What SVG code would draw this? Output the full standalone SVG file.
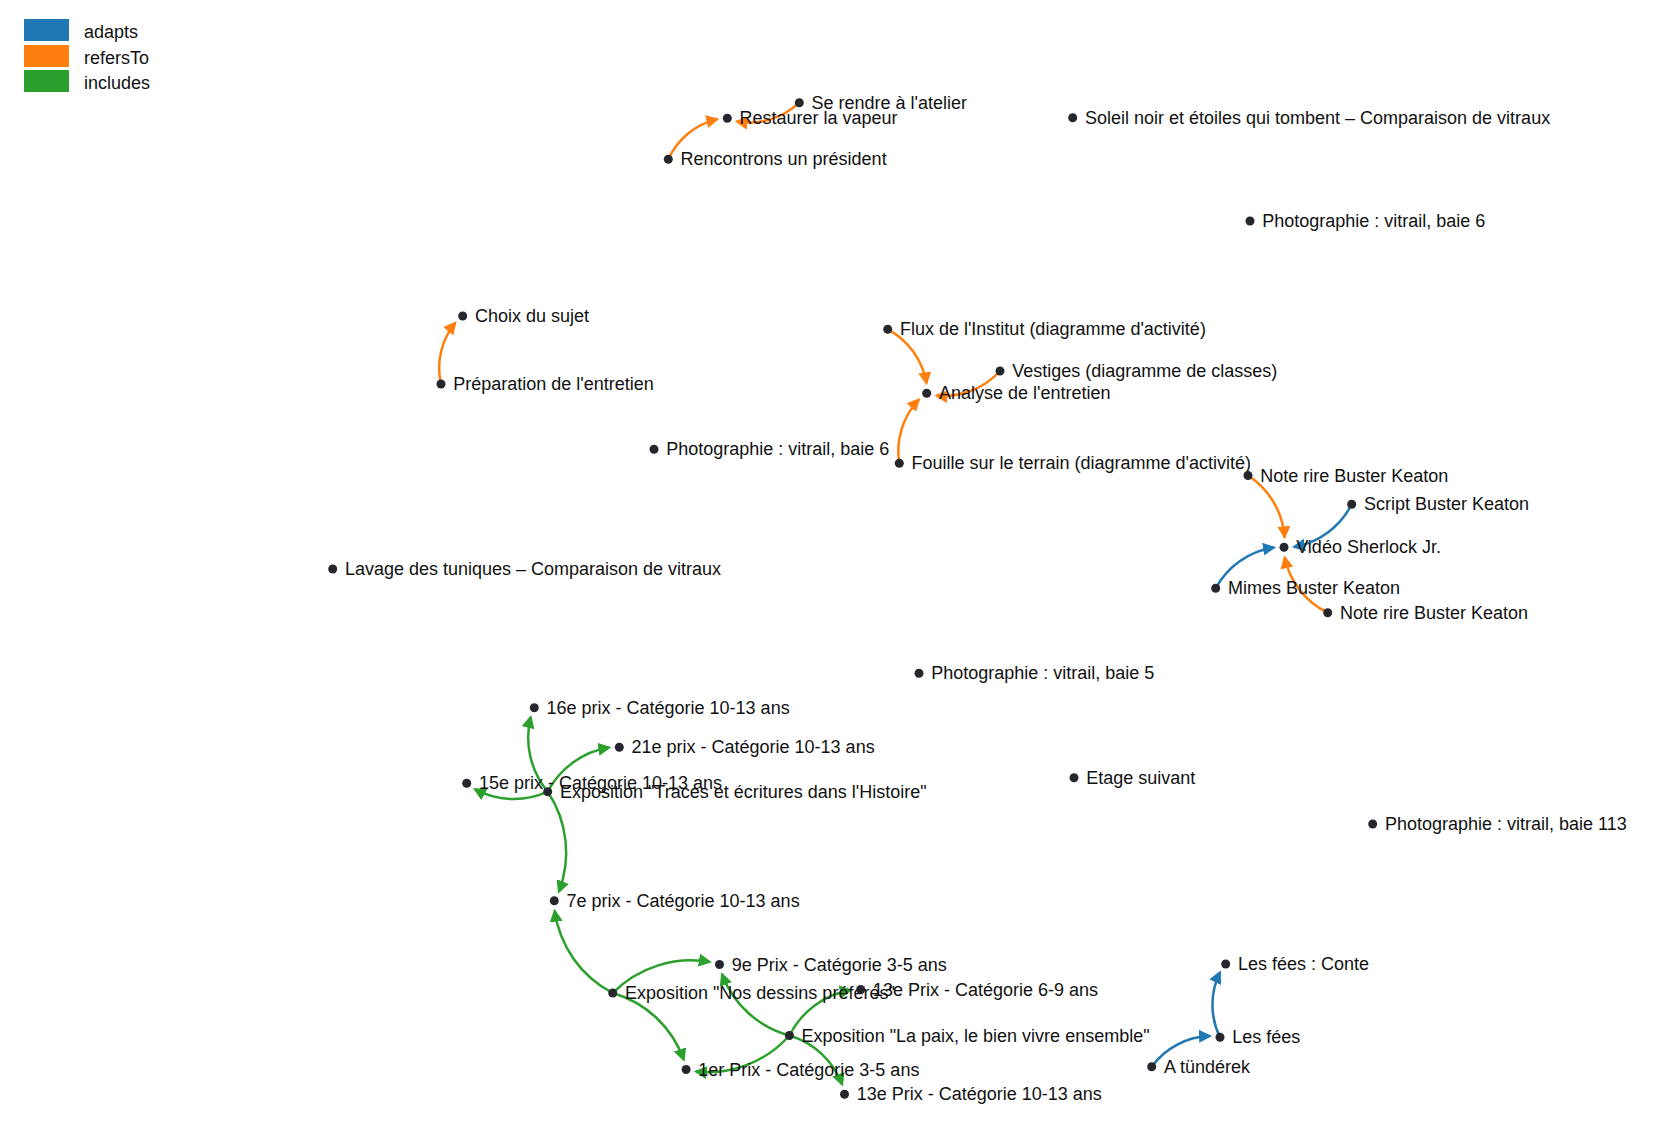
<svg xmlns="http://www.w3.org/2000/svg" width="1662" height="1131" viewBox="0 0 1662 1131">
<style>
text{font-family:"Liberation Sans",Arial,sans-serif;font-size:18px;fill:#111}
.lbl{dominant-baseline:central}
.dot{fill:#25272c}
.lk{fill:none;stroke-width:2.5}
.adapts{stroke:#1f77b4}
.refersTo{stroke:#ff7f0e}
.includes{stroke:#2ca02c}
</style>
<defs>
<marker id="m-adapts" viewBox="0 -6.5 13 13" refX="11" refY="0" markerWidth="13" markerHeight="13" markerUnits="userSpaceOnUse" orient="auto"><path d="M0,-6.5L13,0L0,6.5Z" fill="#1f77b4"/></marker>
<marker id="m-refersTo" viewBox="0 -6.5 13 13" refX="11" refY="0" markerWidth="13" markerHeight="13" markerUnits="userSpaceOnUse" orient="auto"><path d="M0,-6.5L13,0L0,6.5Z" fill="#ff7f0e"/></marker>
<marker id="m-includes" viewBox="0 -6.5 13 13" refX="11" refY="0" markerWidth="13" markerHeight="13" markerUnits="userSpaceOnUse" orient="auto"><path d="M0,-6.5L13,0L0,6.5Z" fill="#2ca02c"/></marker>
</defs>
<rect width="1662" height="1131" fill="#fff"/>
<g id="legend">
<rect x="24" y="19" width="45" height="22" fill="#1f77b4"/>
<rect x="24" y="45" width="45" height="22" fill="#ff7f0e"/>
<rect x="24" y="70" width="45" height="22" fill="#2ca02c"/>
<text class="lbl" x="84" y="32">adapts</text>
<text class="lbl" x="84" y="57.5">refersTo</text>
<text class="lbl" x="84" y="83">includes</text>
</g>
<g id="links">
<path class="lk refersTo" marker-end="url(#m-refersTo)" d="M668.3,159.3A71.85,71.85 0 0,1 717.3,119.1"/>
<path class="lk refersTo" marker-end="url(#m-refersTo)" d="M799.3,102.7A73.67,73.67 0 0,1 736.8,121.4"/>
<path class="lk refersTo" marker-end="url(#m-refersTo)" d="M887.7,329.3A74.95,74.95 0 0,1 926.5,383.3"/>
<path class="lk refersTo" marker-end="url(#m-refersTo)" d="M1000,371A76.62,76.62 0 0,1 936.5,395.6"/>
<path class="lk refersTo" marker-end="url(#m-refersTo)" d="M899.3,463.3A75.17,75.17 0 0,1 918.9,399.5"/>
<path class="lk refersTo" marker-end="url(#m-refersTo)" d="M441,384A71.38,71.38 0 0,1 455.3,322.7"/>
<path class="lk refersTo" marker-end="url(#m-refersTo)" d="M1248,475.5A80.32,80.32 0 0,1 1284.6,537.3"/>
<path class="lk refersTo" marker-end="url(#m-refersTo)" d="M1327.7,612.7A78.66,78.66 0 0,1 1284.7,557.3"/>
<path class="lk adapts" marker-end="url(#m-adapts)" d="M1351.7,504.3A80.2,80.2 0 0,1 1294,546.9"/>
<path class="lk adapts" marker-end="url(#m-adapts)" d="M1215.7,588.3A79.66,79.66 0 0,1 1274,547.5"/>
<path class="lk adapts" marker-end="url(#m-adapts)" d="M1151.7,1066.7A74.36,74.36 0 0,1 1210.1,1036.1"/>
<path class="lk adapts" marker-end="url(#m-adapts)" d="M1220,1037.3A73.52,73.52 0 0,1 1220,972.3"/>
<path class="lk includes" marker-end="url(#m-includes)" d="M547.7,791.7A85.06,85.06 0 0,1 530.7,717"/>
<path class="lk includes" marker-end="url(#m-includes)" d="M547.7,791.7A84.25,84.25 0 0,1 609.3,747.6"/>
<path class="lk includes" marker-end="url(#m-includes)" d="M547.7,791.7A81.43,81.43 0 0,1 474.8,789.2"/>
<path class="lk includes" marker-end="url(#m-includes)" d="M547.7,791.7A109.2,109.2 0 0,1 558.8,891.8"/>
<path class="lk includes" marker-end="url(#m-includes)" d="M612.7,993A109.22,109.22 0 0,1 554.7,910.7"/>
<path class="lk includes" marker-end="url(#m-includes)" d="M612.7,993A110.54,110.54 0 0,1 709.8,961.9"/>
<path class="lk includes" marker-end="url(#m-includes)" d="M612.7,993A106.02,106.02 0 0,1 683.7,1059.8"/>
<path class="lk includes" marker-end="url(#m-includes)" d="M789.4,1035.5A99.63,99.63 0 0,1 722,974.2"/>
<path class="lk includes" marker-end="url(#m-includes)" d="M789.4,1035.5A84.85,84.85 0 0,1 850.7,990"/>
<path class="lk includes" marker-end="url(#m-includes)" d="M789.4,1035.5A108.75,108.75 0 0,1 695.9,1071.5"/>
<path class="lk includes" marker-end="url(#m-includes)" d="M789.4,1035.5A80.58,80.58 0 0,1 842.2,1084.6"/>
</g>
<g id="nodes">
<g id="n1"><circle class="dot" cx="799.3" cy="102.7" r="4.5"/><text class="lbl" x="811.5" y="102.7">Se rendre à l'atelier</text></g>
<g id="n2"><circle class="dot" cx="727.3" cy="118.3" r="4.5"/><text class="lbl" x="739.5" y="118.3">Restaurer la vapeur</text></g>
<g id="n3"><circle class="dot" cx="668.3" cy="159.3" r="4.5"/><text class="lbl" x="680.5" y="159.3">Rencontrons un président</text></g>
<g id="n4"><circle class="dot" cx="1072.7" cy="117.7" r="4.5"/><text class="lbl" x="1084.9" y="117.7">Soleil noir et étoiles qui tombent – Comparaison de vitraux</text></g>
<g id="n5"><circle class="dot" cx="1250" cy="221" r="4.5"/><text class="lbl" x="1262.2" y="221">Photographie : vitrail, baie 6</text></g>
<g id="n6"><circle class="dot" cx="462.7" cy="316" r="4.5"/><text class="lbl" x="474.9" y="316">Choix du sujet</text></g>
<g id="n7"><circle class="dot" cx="441" cy="384" r="4.5"/><text class="lbl" x="453.2" y="384">Préparation de l'entretien</text></g>
<g id="n8"><circle class="dot" cx="887.7" cy="329.3" r="4.5"/><text class="lbl" x="899.9" y="329.3">Flux de l'Institut (diagramme d'activité)</text></g>
<g id="n9"><circle class="dot" cx="1000" cy="371" r="4.5"/><text class="lbl" x="1012.2" y="371">Vestiges (diagramme de classes)</text></g>
<g id="n10"><circle class="dot" cx="926.7" cy="393.3" r="4.5"/><text class="lbl" x="938.9" y="393.3">Analyse de l'entretien</text></g>
<g id="n11"><circle class="dot" cx="654" cy="449.3" r="4.5"/><text class="lbl" x="666.2" y="449.3">Photographie : vitrail, baie 6</text></g>
<g id="n12"><circle class="dot" cx="899.3" cy="463.3" r="4.5"/><text class="lbl" x="911.5" y="463.3">Fouille sur le terrain (diagramme d'activité)</text></g>
<g id="n13"><circle class="dot" cx="1248" cy="475.5" r="4.5"/><text class="lbl" x="1260.2" y="475.5">Note rire Buster Keaton</text></g>
<g id="n14"><circle class="dot" cx="1351.7" cy="504.3" r="4.5"/><text class="lbl" x="1363.9" y="504.3">Script Buster Keaton</text></g>
<g id="n15"><circle class="dot" cx="1284" cy="547.3" r="4.5"/><text class="lbl" x="1296.2" y="547.3">Vidéo Sherlock Jr.</text></g>
<g id="n16"><circle class="dot" cx="1215.7" cy="588.3" r="4.5"/><text class="lbl" x="1227.9" y="588.3">Mimes Buster Keaton</text></g>
<g id="n17"><circle class="dot" cx="1327.7" cy="612.7" r="4.5"/><text class="lbl" x="1339.9" y="612.7">Note rire Buster Keaton</text></g>
<g id="n18"><circle class="dot" cx="332.7" cy="569" r="4.5"/><text class="lbl" x="344.9" y="569">Lavage des tuniques – Comparaison de vitraux</text></g>
<g id="n19"><circle class="dot" cx="919" cy="673.3" r="4.5"/><text class="lbl" x="931.2" y="673.3">Photographie : vitrail, baie 5</text></g>
<g id="n20"><circle class="dot" cx="534.3" cy="707.7" r="4.5"/><text class="lbl" x="546.5" y="707.7">16e prix - Catégorie 10-13 ans</text></g>
<g id="n21"><circle class="dot" cx="619.3" cy="747.3" r="4.5"/><text class="lbl" x="631.5" y="747.3">21e prix - Catégorie 10-13 ans</text></g>
<g id="n22"><circle class="dot" cx="466.7" cy="783.3" r="4.5"/><text class="lbl" x="478.9" y="783.3">15e prix - Catégorie 10-13 ans</text></g>
<g id="n23"><circle class="dot" cx="547.7" cy="791.7" r="4.5"/><text class="lbl" x="559.9" y="791.7">Exposition "Traces et écritures dans l'Histoire"</text></g>
<g id="n24"><circle class="dot" cx="1074" cy="777.7" r="4.5"/><text class="lbl" x="1086.2" y="777.7">Etage suivant</text></g>
<g id="n25"><circle class="dot" cx="1372.7" cy="824" r="4.5"/><text class="lbl" x="1384.9" y="824">Photographie : vitrail, baie 113</text></g>
<g id="n26"><circle class="dot" cx="554.3" cy="900.7" r="4.5"/><text class="lbl" x="566.5" y="900.7">7e prix - Catégorie 10-13 ans</text></g>
<g id="n27"><circle class="dot" cx="719.5" cy="964.5" r="4.5"/><text class="lbl" x="731.7" y="964.5">9e Prix - Catégorie 3-5 ans</text></g>
<g id="n28"><circle class="dot" cx="612.7" cy="993" r="4.5"/><text class="lbl" x="624.9" y="993">Exposition "Nos dessins préférés"</text></g>
<g id="n29"><circle class="dot" cx="860.7" cy="989.5" r="4.5"/><text class="lbl" x="872.9" y="989.5">13e Prix - Catégorie 6-9 ans</text></g>
<g id="n30"><circle class="dot" cx="789.4" cy="1035.5" r="4.5"/><text class="lbl" x="801.6" y="1035.5">Exposition "La paix, le bien vivre ensemble"</text></g>
<g id="n31"><circle class="dot" cx="686.1" cy="1069.5" r="4.5"/><text class="lbl" x="698.3" y="1069.5">1er Prix - Catégorie 3-5 ans</text></g>
<g id="n32"><circle class="dot" cx="844.5" cy="1094.3" r="4.5"/><text class="lbl" x="856.7" y="1094.3">13e Prix - Catégorie 10-13 ans</text></g>
<g id="n33"><circle class="dot" cx="1225.7" cy="964" r="4.5"/><text class="lbl" x="1237.9" y="964">Les fées : Conte</text></g>
<g id="n34"><circle class="dot" cx="1220" cy="1037.3" r="4.5"/><text class="lbl" x="1232.2" y="1037.3">Les fées</text></g>
<g id="n35"><circle class="dot" cx="1151.7" cy="1066.7" r="4.5"/><text class="lbl" x="1163.9" y="1066.7">A tündérek</text></g>
</g>
</svg>
